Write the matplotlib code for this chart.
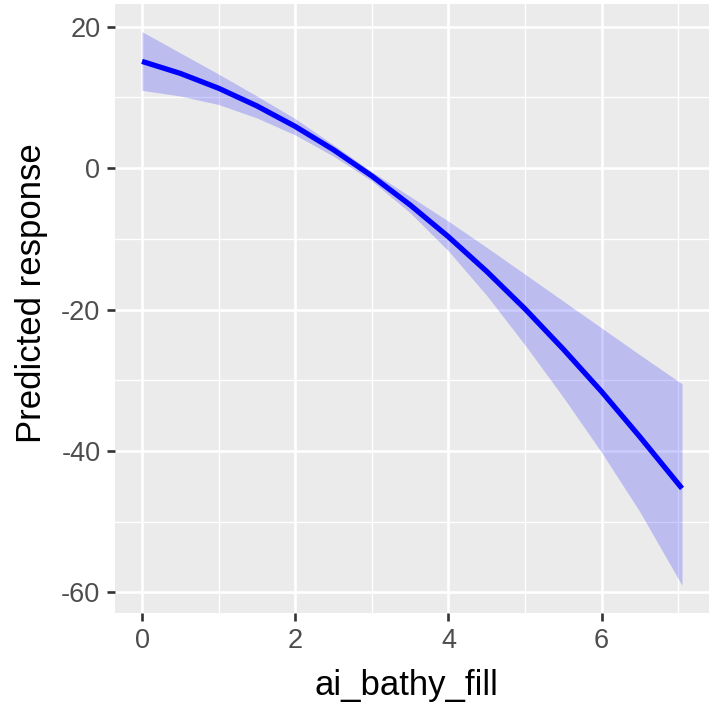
import matplotlib
matplotlib.use("Agg")
import matplotlib.pyplot as plt
from matplotlib.ticker import FixedLocator

plt.rcParams['font.family'] = ['Liberation Sans', 'DejaVu Sans']

# data
x_vals = [0.0, 0.5, 1.0, 1.5, 2.0, 2.5, 3.0, 3.5, 4.0, 4.5, 5.0, 5.5, 6.0, 6.5, 7.05]
fit = [15.1, 13.4, 11.3, 8.8, 5.9, 2.6, -1.1, -5.2, -9.7, -14.6, -19.9, -25.6, -31.6, -38.0, -45.3]
upper = [19.3, 16.3, 13.3, 10.2, 7.0, 3.3, -0.5, -4.0, -7.5, -11.2, -15.0, -18.8, -22.6, -26.4, -30.5]
lower = [11.0, 10.2, 9.0, 7.1, 4.7, 1.7, -1.8, -6.3, -11.7, -18.0, -25.0, -32.4, -40.2, -48.6, -59.0]
x_ticks = [0, 2, 4, 6]
x_minor = [1, 3, 5, 7]
y_ticks = [-60, -40, -20, 0, 20]
y_minor = [-50, -30, -10, 10]
x_label = "ai_bathy_fill"
y_label = "Predicted response"

fig = plt.figure(figsize=(7.12, 7.06), dpi=100)
ax = fig.add_axes([115/712, 1-613/706, (709-115)/712, (613-4)/706])
ax.set_facecolor('#EBEBEB')

ax.fill_between(x_vals, lower, upper, color='blue', alpha=0.2, linewidth=0, zorder=2)
ax.plot(x_vals, fit, color='blue', lw=3.8, solid_capstyle='butt',
        solid_joinstyle='round', zorder=3)

xmin, xmax = min(x_vals), max(x_vals)
ymin, ymax = min(lower), max(upper)
dx = (xmax - xmin) * 0.05
dy = (ymax - ymin) * 0.05
ax.set_xlim(xmin - dx, xmax + dx)
ax.set_ylim(ymin - dy, ymax + dy)

ax.xaxis.set_major_locator(FixedLocator(x_ticks))
ax.xaxis.set_minor_locator(FixedLocator(x_minor))
ax.yaxis.set_major_locator(FixedLocator(y_ticks))
ax.yaxis.set_minor_locator(FixedLocator(y_minor))
ax.set_xticklabels([str(v) for v in x_ticks])
ax.set_yticklabels([str(v) for v in y_ticks])

ax.grid(which='major', color='white', lw=1.9, zorder=1)
ax.grid(which='minor', color='white', lw=0.95, zorder=1)
ax.set_axisbelow(True)

for s in ax.spines.values():
    s.set_visible(False)

ax.tick_params(which='major', length=5.5, width=1.9, color='#333333',
               labelsize=19.5, labelcolor='#4D4D4D', pad=5)
ax.tick_params(which='minor', length=0)

ax.set_xlabel(x_label, fontsize=25, color='black')
ax.set_ylabel(y_label, fontsize=25, color='black')
ax.xaxis.set_label_coords(0.49, -0.092)
ax.yaxis.set_label_coords(-0.112, 0.525)

fig.savefig("out.png", dpi=100, facecolor='white')
